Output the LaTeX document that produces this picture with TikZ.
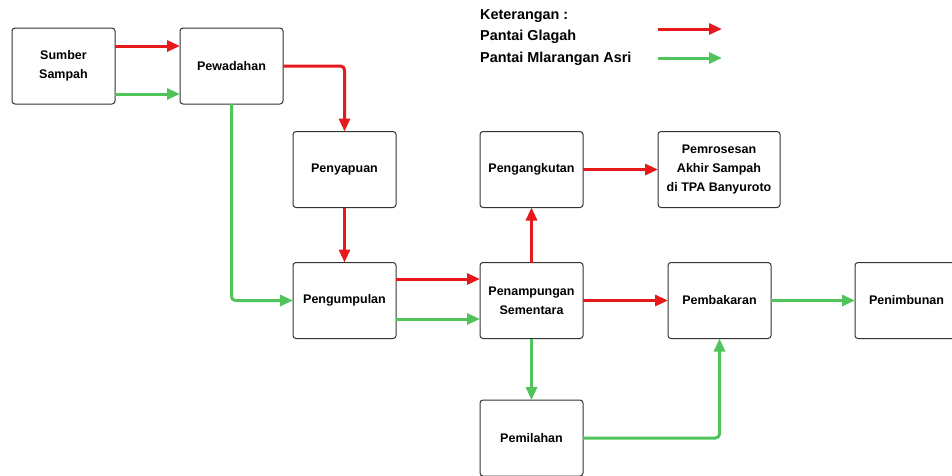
\documentclass[tikz,border=0pt]{standalone}
\usepackage{fontspec}
\setmainfont{Liberation Sans}
\usetikzlibrary{arrows.meta}
\definecolor{fred}{RGB}{232,25,27}
\definecolor{fgreen}{RGB}{80,196,90}
\definecolor{bord}{RGB}{51,51,51}
\tikzset{
  box/.style={draw=bord, line width=1pt, rounded corners=3pt, fill=white,
    minimum width=103pt, minimum height=76pt, inner sep=2pt, outer sep=0pt,
    align=center, font=\fontsize{12.5}{19}\selectfont\bfseries},
  legtxt/.style={anchor=west, inner sep=0pt, font=\fontsize{14.4}{17}\selectfont\bfseries},
  flow/.style={line width=3pt, rounded corners=4pt, -{Triangle[length=13pt,width=11pt]}},
  rflow/.style={flow, draw=fred, color=fred},
  gflow/.style={flow, draw=fgreen, color=fgreen}
}
\begin{document}
\begin{tikzpicture}[x=1pt,y=-1pt]
\useasboundingbox (0,0) rectangle (952,475);
% nodes
\node[box] (sumber) at (63.5,66) {Sumber\\Sampah};
\node[box] (pewadahan) at (231.5,66) {Pewadahan};
\node[box] (penyapuan) at (344.5,169.5) {Penyapuan};
\node[box] (pengumpulan) at (344.5,300.5) {Pengumpulan};
\node[box] (penampungan) at (531.5,300.5) {Penampungan\\Sementara};
\node[box] (pengangkutan) at (531.5,169.5) {Pengangkutan};
\node[box, minimum width=122pt] (pemrosesan) at (719,169.5) {Pemrosesan\\Akhir Sampah\\di TPA Banyuroto};
\node[box] (pembakaran) at (719.5,300.5) {Pembakaran};
\node[box] (penimbunan) at (906.5,300.5) {Penimbunan};
\node[box] (pemilahan) at (531.5,438) {Pemilahan};
% legend
\node[legtxt] (ket) at (480,16) {Keterangan :};
\node[legtxt] (glagah) at (480,37) {Pantai Glagah};
\node[legtxt] (mlarangan) at (480,59) {Pantai Mlarangan Asri};
\coordinate (lr1) at (658,29);
\coordinate (lr2) at (722,29);
\coordinate (lg1) at (658,58);
\coordinate (lg2) at (722,58);
\draw[rflow] (lr1) -- (lr2);
\draw[gflow] (lg1) -- (lg2);
% red flows
\draw[rflow] ([yshift=20pt]sumber.east) -- ([yshift=20pt]pewadahan.west);
\draw[rflow] (pewadahan.east) -| (penyapuan.north);
\draw[rflow] (penyapuan.south) -- (pengumpulan.north);
\draw[rflow] ([yshift=21.5pt]pengumpulan.east) -- ([yshift=21.5pt]penampungan.west);
\draw[rflow] (penampungan.north) -- (pengangkutan.south);
\draw[rflow] (pengangkutan.east) -- (pemrosesan.west);
\draw[rflow] (penampungan.east) -- (pembakaran.west);
% green flows
\draw[gflow] ([yshift=-28pt]sumber.east) -- ([yshift=-28pt]pewadahan.west);
\draw[gflow] (pewadahan.south) |- (pengumpulan.west);
\draw[gflow] ([yshift=-18.5pt]pengumpulan.east) -- ([yshift=-18.5pt]penampungan.west);
\draw[gflow] (penampungan.south) -- (pemilahan.north);
\draw[gflow] (pemilahan.east) -| (pembakaran.south);
\draw[gflow] (pembakaran.east) -- (penimbunan.west);
\end{tikzpicture}
\end{document}
